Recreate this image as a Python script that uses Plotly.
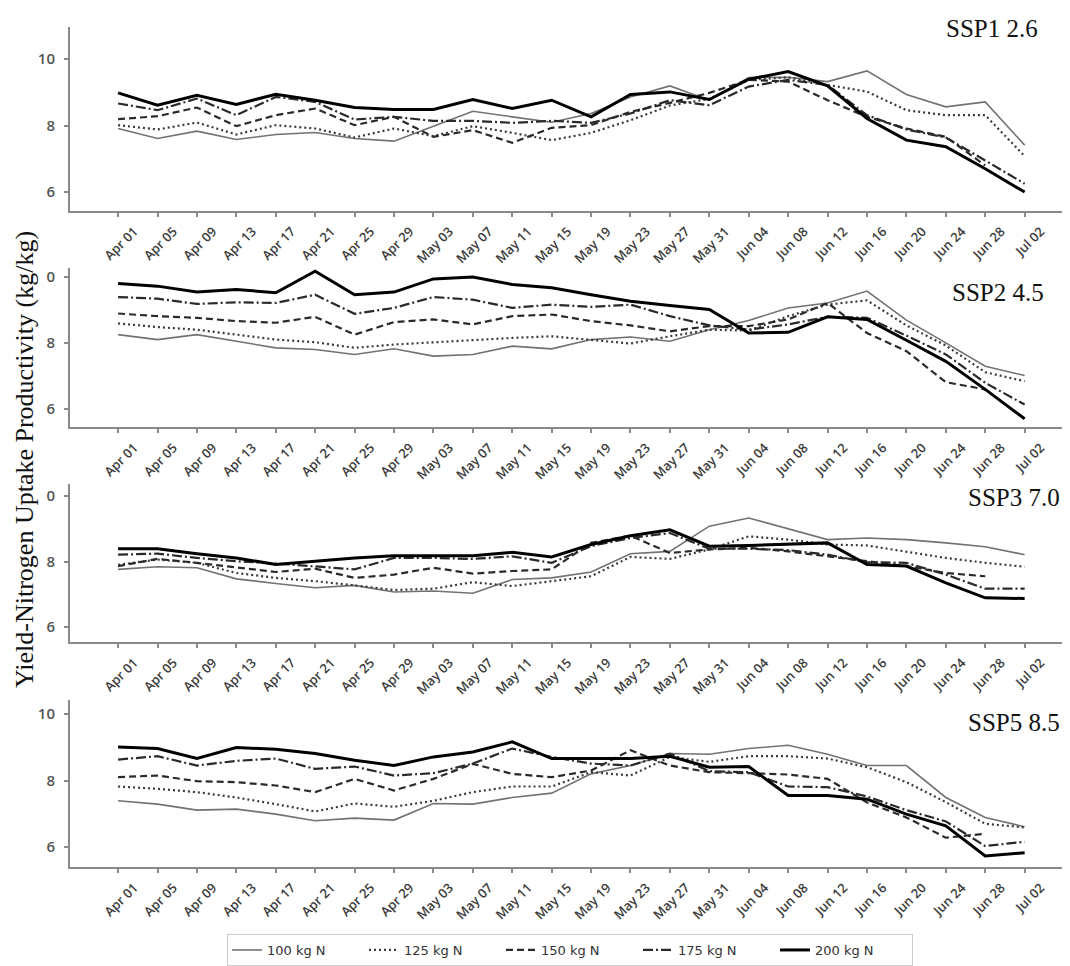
import plotly.graph_objects as go

dates = ["Apr 01", "Apr 05", "Apr 09", "Apr 13", "Apr 17", "Apr 21", "Apr 25", "Apr 29",
         "May 03", "May 07", "May 11", "May 15", "May 19", "May 23", "May 27", "May 31",
         "Jun 04", "Jun 08", "Jun 12", "Jun 16", "Jun 20", "Jun 24", "Jun 28", "Jul 02"]

series_names = ["100 kg N", "125 kg N", "150 kg N", "175 kg N", "200 kg N"]
panel_titles = ["SSP1 2.6", "SSP2 4.5", "SSP3 7.0", "SSP5 8.5"]
y_title = "Yield-Nitrogen Uptake Productivity (kg/kg)"

# SSP1 2.6
ssp1_100 = [7.91, 7.61, 7.83, 7.58, 7.73, 7.79, 7.61, 7.53, 7.98, 8.43, 8.26, 8.10, 8.36, 8.86, 9.19, 8.76, 9.44, 9.45, 9.32, 9.64, 8.93, 8.56, 8.71, 7.41]
ssp1_125 = [8.01, 7.88, 8.09, 7.73, 8.01, 7.91, 7.64, 7.91, 7.68, 7.98, 7.78, 7.56, 7.78, 8.16, 8.60, 8.80, 9.37, 9.45, 9.22, 9.02, 8.46, 8.31, 8.31, 7.08]
ssp1_150 = [8.19, 8.28, 8.54, 7.98, 8.31, 8.51, 8.01, 8.26, 7.66, 7.86, 7.48, 7.93, 8.01, 8.41, 8.68, 8.98, 9.37, 9.32, 8.76, 8.26, 7.91, 7.66, 6.80, None]
ssp1_175 = [8.66, 8.46, 8.81, 8.31, 8.86, 8.71, 8.18, 8.26, 8.14, 8.14, 8.08, 8.14, 8.08, 8.36, 8.76, 8.61, 9.17, 9.37, 9.22, 8.31, 7.88, 7.64, 6.95, 6.25]
ssp1_200 = [8.98, 8.61, 8.91, 8.63, 8.94, 8.76, 8.54, 8.48, 8.48, 8.78, 8.51, 8.76, 8.26, 8.93, 9.01, 8.78, 9.39, 9.62, 9.19, 8.21, 7.56, 7.36, 6.70, 6.00]

# SSP2 4.5
ssp2_100 = [8.25, 8.10, 8.25, 8.05, 7.85, 7.80, 7.65, 7.82, 7.60, 7.65, 7.90, 7.82, 8.10, 8.18, 8.05, 8.40, 8.68, 9.06, 9.21, 9.57, 8.69, 8.00, 7.29, 7.01]
ssp2_125 = [8.59, 8.48, 8.40, 8.25, 8.10, 8.02, 7.85, 7.95, 8.02, 8.10, 8.15, 8.20, 8.10, 7.98, 8.20, 8.40, 8.37, 8.81, 9.16, 9.29, 8.53, 7.92, 7.11, 6.84]
ssp2_150 = [8.89, 8.81, 8.76, 8.66, 8.61, 8.79, 8.25, 8.63, 8.71, 8.56, 8.81, 8.86, 8.66, 8.53, 8.35, 8.51, 8.51, 8.71, 9.21, 8.30, 7.75, 6.81, 6.59, None]
ssp2_175 = [9.39, 9.34, 9.18, 9.23, 9.21, 9.46, 8.88, 9.06, 9.39, 9.31, 9.06, 9.16, 9.09, 9.16, 8.81, 8.53, 8.40, 8.56, 8.79, 8.76, 8.22, 7.65, 6.79, 6.13]
ssp2_200 = [9.80, 9.72, 9.54, 9.62, 9.52, 10.17, 9.46, 9.54, 9.94, 10.00, 9.77, 9.67, 9.46, 9.26, 9.13, 9.01, 8.30, 8.32, 8.79, 8.71, 8.08, 7.44, 6.59, 5.70]

# SSP3 7.0
ssp3_100 = [7.76, 7.84, 7.81, 7.47, 7.33, 7.20, 7.27, 7.07, 7.10, 7.03, 7.45, 7.50, 7.68, 8.24, 8.31, 9.08, 9.33, 9.00, 8.67, 8.72, 8.67, 8.57, 8.45, 8.21]
ssp3_125 = [7.90, 8.06, 7.96, 7.65, 7.50, 7.40, 7.27, 7.13, 7.17, 7.37, 7.25, 7.40, 7.55, 8.14, 8.08, 8.37, 8.77, 8.67, 8.52, 8.49, 8.31, 8.11, 7.96, 7.84]
ssp3_150 = [7.86, 8.08, 7.96, 7.81, 7.68, 7.78, 7.50, 7.60, 7.81, 7.63, 7.71, 7.76, 8.57, 8.79, 8.26, 8.37, 8.42, 8.31, 8.16, 8.01, 7.86, 7.65, 7.55, None]
ssp3_175 = [8.21, 8.24, 8.11, 8.01, 7.94, 7.86, 7.76, 8.11, 8.11, 8.08, 8.16, 7.96, 8.47, 8.72, 8.87, 8.39, 8.39, 8.35, 8.21, 7.98, 7.96, 7.60, 7.17, 7.17]
ssp3_200 = [8.39, 8.39, 8.24, 8.11, 7.91, 8.01, 8.11, 8.18, 8.18, 8.18, 8.28, 8.14, 8.52, 8.79, 8.97, 8.47, 8.49, 8.52, 8.57, 7.91, 7.86, 7.35, 6.89, 6.87]

# SSP5 8.5
ssp5_100 = [7.39, 7.29, 7.11, 7.14, 6.99, 6.79, 6.87, 6.81, 7.31, 7.29, 7.49, 7.62, 8.20, 8.45, 8.81, 8.79, 8.96, 9.06, 8.79, 8.45, 8.45, 7.49, 6.89, 6.61]
ssp5_125 = [7.82, 7.75, 7.65, 7.49, 7.29, 7.07, 7.31, 7.21, 7.39, 7.65, 7.82, 7.82, 8.25, 8.15, 8.71, 8.56, 8.73, 8.73, 8.66, 8.40, 7.95, 7.35, 6.70, 6.59]
ssp5_150 = [8.10, 8.15, 7.98, 7.95, 7.85, 7.65, 8.05, 7.70, 8.05, 8.50, 8.20, 8.10, 8.30, 8.91, 8.45, 8.25, 8.22, 8.18, 8.05, 7.34, 6.89, 6.28, 6.40, None]
ssp5_175 = [8.63, 8.73, 8.45, 8.59, 8.66, 8.35, 8.42, 8.15, 8.22, 8.51, 8.96, 8.71, 8.51, 8.45, 8.81, 8.28, 8.25, 7.82, 7.80, 7.52, 7.11, 6.77, 6.03, 6.16]
ssp5_200 = [9.01, 8.96, 8.66, 8.99, 8.94, 8.81, 8.61, 8.45, 8.71, 8.86, 9.16, 8.66, 8.66, 8.66, 8.73, 8.40, 8.42, 7.55, 7.55, 7.44, 6.99, 6.64, 5.73, 5.83]

panels = [
    [ssp1_100, ssp1_125, ssp1_150, ssp1_175, ssp1_200],
    [ssp2_100, ssp2_125, ssp2_150, ssp2_175, ssp2_200],
    [ssp3_100, ssp3_125, ssp3_150, ssp3_175, ssp3_200],
    [ssp5_100, ssp5_125, ssp5_150, ssp5_175, ssp5_200],
]

ytick_vals = [6, 8, 10]
ytick_text = [["6", "8", "10"], ["6", "8", "0"], ["6", "8", "0"], ["6", "8", "10"]]

styles = [
    dict(color="#727272", width=1.6, dash="solid"),
    dict(color="#3a3a3a", width=2.2, dash="2px,3px"),
    dict(color="#2a2a2a", width=2.2, dash="7px,4px"),
    dict(color="#2a2a2a", width=2.2, dash="10px,3px,2px,3px"),
    dict(color="#000000", width=3.0, dash="solid"),
]

# the page body adds an 8px margin; lay out in screen pixels minus that offset
OFF = 8
W, H = 1070 - OFF, 966 - OFF


def px_x(v):
    return (v - OFF) / W


def px_y(v):
    return 1 - (v - OFF) / H


# screen geometry of each panel: (top_px, bottom_px, y_top_value, y_bottom_value)
geom = [
    (27, 210.7, 10.96, 5.44),
    (268, 427, 10.27, 5.45),
    (484, 642, 10.37, 5.54),
    (700, 867, 10.42, 5.40),
]
x_left, x_right = 70, 1068

fig = go.Figure()
layout = dict(
    width=W, height=H,
    paper_bgcolor="white", plot_bgcolor="white",
    margin=dict(l=0, r=0, t=0, b=0),
    showlegend=True,
)

for p in range(4):
    sfx = "" if p == 0 else str(p + 1)
    for s in range(5):
        fig.add_trace(go.Scatter(
            x=dates, y=panels[p][s], mode="lines",
            name=series_names[s], legendgroup=series_names[s],
            showlegend=(p == 0),
            line=styles[s],
            connectgaps=False,
            xaxis="x" + sfx, yaxis="y" + sfx,
        ))
    top, bot, ytop, ybot = geom[p]
    layout["xaxis" + sfx] = dict(
        domain=[px_x(x_left), min(1.0, px_x(x_right))],
        anchor="y" + sfx,
        type="category",
        categoryorder="array", categoryarray=dates,
        range=[-1.22, 24.1],
        showline=True, linecolor="#8a8a8a", linewidth=2,
        ticks="outside", ticklen=4, tickwidth=1.5, tickcolor="#8a8a8a",
        tickangle=-45, ticklabelstandoff=2, ticklabelshift=16,
        tickfont=dict(family="Open Sans", size=13, color="#3c3c3c", weight=600),
        showgrid=False, zeroline=False, automargin=False,
    )
    layout["yaxis" + sfx] = dict(
        domain=[px_y(bot), px_y(top)],
        anchor="x" + sfx,
        range=[ybot, ytop],
        tickvals=ytick_vals, ticktext=ytick_text[p],
        showline=True, linecolor="#8a8a8a", linewidth=2,
        ticks="outside", ticklen=4, tickwidth=1.5, tickcolor="#8a8a8a",
        ticklabelstandoff=6,
        tickfont=dict(family="Open Sans", size=15, color="#555555", weight=600),
        showgrid=False, zeroline=False, automargin=False,
    )

title_pos = [(1040, 28), (1046, 292), (1062, 497), (1062, 722)]
annotations = []
for p in range(4):
    xr, yc = title_pos[p]
    annotations.append(dict(
        text=panel_titles[p], x=px_x(xr), y=px_y(yc), xref="paper", yref="paper",
        xanchor="right", yanchor="middle", showarrow=False,
        font=dict(family="Liberation Serif", size=25, color="#111111"),
    ))
annotations.append(dict(
    text=y_title, x=px_x(24), y=px_y(460), xref="paper", yref="paper",
    xanchor="center", yanchor="middle", showarrow=False, textangle=-90,
    font=dict(family="Liberation Serif", size=26, color="#111111"),
))
layout["annotations"] = annotations
layout["legend"] = dict(
    orientation="h", x=px_x(570), xanchor="center", y=px_y(934), yanchor="top",
    bordercolor="#cccccc", borderwidth=1, bgcolor="white",
    font=dict(family="DejaVu Sans", size=13, color="#333333"),
    entrywidth=92, entrywidthmode="pixels",
    tracegroupgap=0, itemwidth=30,
)
fig.update_layout(**layout)
fig.write_html("out.html")
